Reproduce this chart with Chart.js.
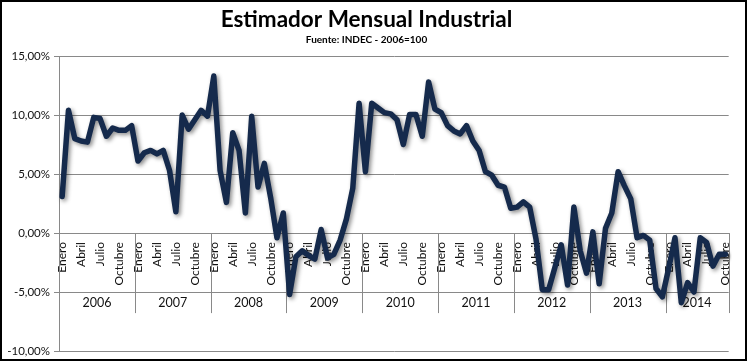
<!DOCTYPE html>
<html>
<head>
<meta charset="utf-8">
<title>Estimador Mensual Industrial</title>
<script src="https://cdn.jsdelivr.net/npm/chart.js@4"></script>
<style>
  body { margin: 0; background: #fff; }
</style>
</head>
<body>
<canvas id="myChart" width="749" height="362"></canvas>
<script>
// datos: variacion interanual EMI (%)
const anios = ['2006', '2007', '2008', '2009', '2010', '2011', '2012', '2013', '2014'];
const meses = ['Enero', 'Febrero', 'Marzo', 'Abril', 'Mayo', 'Junio', 'Julio', 'Agosto', 'Septiembre', 'Octubre', 'Noviembre', 'Diciembre'];
const mesesVisibles = ['Enero', 'Abril', 'Julio', 'Octubre'];

const v2006 = [3.1, 10.4, 8.0, 7.8, 7.7, 9.8, 9.7, 8.2, 8.9, 8.7, 8.7, 9.1];
const v2007 = [6.1, 6.8, 7.0, 6.7, 7.0, 5.3, 1.8, 10.0, 8.8, 9.6, 10.4, 9.9];
const v2008 = [13.3, 5.3, 2.6, 8.5, 7.0, 1.7, 9.9, 3.9, 5.9, 3.0, -0.4, 1.7];
const v2009 = [-5.2, -2.0, -1.5, -1.9, -2.2, 0.3, -2.1, -1.8, -0.6, 1.2, 3.8, 11.0];
const v2010 = [5.2, 11.0, 10.6, 10.2, 10.1, 9.6, 7.5, 10.05, 10.05, 8.2, 12.8, 10.5];
const v2011 = [10.2, 9.1, 8.65, 8.4, 9.1, 7.8, 7.0, 5.2, 4.9, 4.05, 3.9, 2.1];
const v2012 = [2.2, 2.65, 2.2, -0.5, -4.8, -4.8, -2.9, -1.0, -4.4, 2.2, -1.5, -3.4];
const v2013 = [0.1, -4.3, 0.4, 1.7, 5.2, 4.0, 2.9, -0.4, -0.2, -0.6, -4.7, -5.4];
const v2014 = [-3.0, -0.4, -5.9, -4.2, -5.0, -0.4, -0.8, -2.8, -1.8, -1.8];

const porAnio = [v2006, v2007, v2008, v2009, v2010, v2011, v2012, v2013, v2014];

// armar etiquetas y serie
const labels = [];
const data = [];
porAnio.forEach(function(valores) {
  valores.forEach(function(v, m) {
    labels.push(meses[m]);
    data.push(v);
  });
});

const gris = '#898989';
const fuente = 'Lato, "Open Sans", sans-serif';

// fila de años debajo de los meses
const filaAnios = {
  id: 'filaAnios',
  beforeDatasetsDraw(chart) {
    const ctx = chart.ctx;
    const x = chart.scales.x;
    const y = chart.scales.y;
    const arriba = y.getPixelForValue(0);
    const abajo = arriba + 80;
    const textoY = y.getPixelForValue(-5) + 11;
    ctx.save();
    ctx.strokeStyle = gris;
    ctx.lineWidth = 1;
    ctx.fillStyle = '#111';
    ctx.font = '12.5px ' + fuente;
    ctx.textAlign = 'center';
    ctx.textBaseline = 'middle';
    let inicio = 0;
    porAnio.forEach(function(valores, k) {
      const fin = inicio + valores.length;
      const izq = inicio === 0 ? x.left : (x.getPixelForValue(inicio - 1) + x.getPixelForValue(inicio)) / 2;
      const der = fin === data.length ? x.right : (x.getPixelForValue(fin - 1) + x.getPixelForValue(fin)) / 2;
      ctx.beginPath();
      ctx.moveTo(Math.round(izq) + 0.5, arriba);
      ctx.lineTo(Math.round(izq) + 0.5, abajo);
      ctx.moveTo(Math.round(der) + 0.5, arriba);
      ctx.lineTo(Math.round(der) + 0.5, abajo);
      ctx.stroke();
      ctx.fillText(anios[k], (izq + der) / 2, textoY);
      inicio = fin;
    });
    ctx.restore();

    // sombra de la linea
    ctx.save();
    ctx.shadowColor = 'rgba(0,0,0,0.45)';
    ctx.shadowBlur = 4;
    ctx.shadowOffsetX = 2;
    ctx.shadowOffsetY = 2;
  },
  afterDatasetsDraw(chart) {
    chart.ctx.restore();
  },
  afterDraw(chart) {
    const ctx = chart.ctx;
    ctx.save();
    ctx.strokeStyle = '#000';
    ctx.lineWidth = 2;
    ctx.strokeRect(1, 1, chart.width - 4, chart.height - 3);
    ctx.restore();
  }
};

var ctx = document.getElementById('myChart').getContext('2d');
var myChart = new Chart(ctx, {
  type: 'line',
  data: {
    labels: labels,
    datasets: [{
      data: data,
      borderColor: '#152a4c',
      borderWidth: 5.5,
      tension: 0,
      pointRadius: 0,
      borderJoinStyle: 'round',
      borderCapStyle: 'round'
    }]
  },
  options: {
    responsive: false,
    animation: false,
    devicePixelRatio: 1,
    layout: { padding: { left: 0, right: 16, top: 0, bottom: 9 } },
    plugins: {
      legend: { display: false },
      tooltip: { enabled: false },
      title: {
        display: true,
        text: 'Estimador Mensual Industrial',
        color: '#000',
        font: { family: fuente, size: 22.5, weight: 'bold', lineHeight: 1.2 },
        padding: { top: 6, bottom: 0 }
      },
      subtitle: {
        display: true,
        text: 'Fuente: INDEC - 2006=100',
        color: '#000',
        font: { family: fuente, size: 10, weight: 'bold', lineHeight: 1.2 },
        padding: { top: 1, bottom: 10 }
      }
    },
    scales: {
      x: {
        type: 'category',
        position: { y: 0 },
        offset: true,
        grid: { display: false, drawTicks: false },
        border: { display: true, color: gris },
        ticks: {
          autoSkip: false,
          minRotation: 90,
          maxRotation: 90,
          padding: 9,
          color: '#111',
          font: { family: fuente, size: 12 },
          callback: function(val, i) {
            const m = labels[i];
            return mesesVisibles.includes(m) ? m : '';
          }
        }
      },
      y: {
        min: -10,
        max: 15,
        ticks: {
          stepSize: 5,
          padding: 4,
          color: '#111',
          font: { family: fuente, size: 11.5 },
          callback: function(v) {
            return v.toFixed(2).replace('.', ',') + '%';
          }
        },
        grid: { color: gris, tickLength: 5 },
        border: { color: gris },
        afterFit: function(scale) { scale.width = 59; }
      }
    }
  },
  plugins: [filaAnios]
});
</script>
</body>
</html>
